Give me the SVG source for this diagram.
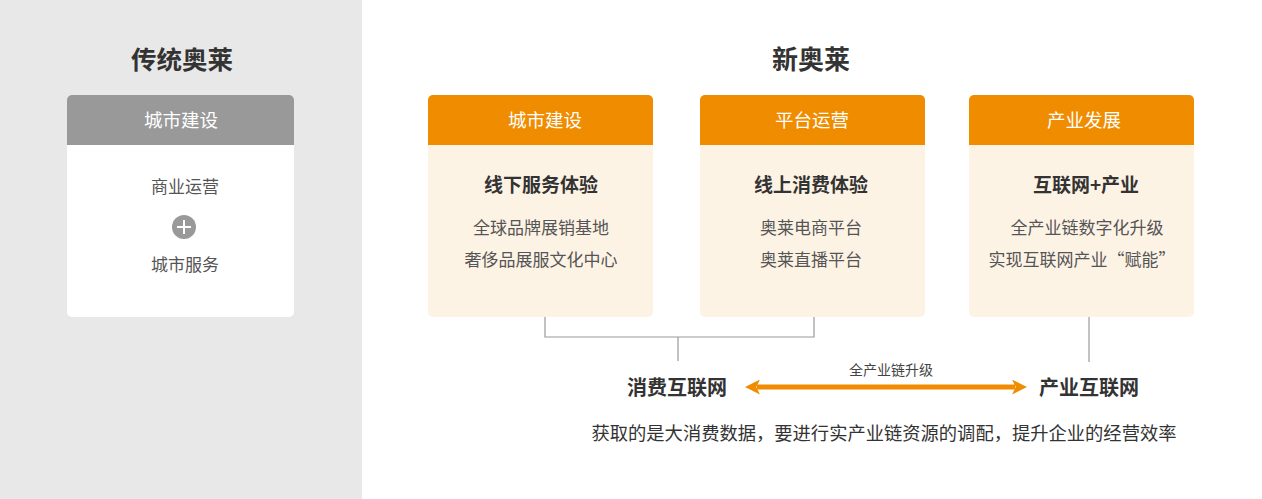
<svg xmlns="http://www.w3.org/2000/svg" width="1262" height="499" viewBox="0 0 1262 499">
<style>
text{font-family:"Noto Sans CJK SC","Noto Sans",sans-serif;text-anchor:middle}
.title{font-size:25.5px;font-weight:bold;fill:#333}
.hdr{font-size:18.5px;fill:#fff}
.sub{font-size:19px;font-weight:bold;fill:#333}
.item{font-size:17px;fill:#555}
.body{fill:#fdf3e5}
.head{fill:#f08c00}
.conn{stroke:#999;stroke-width:1.2;fill:none}
</style>
<defs>
<clipPath id="c1"><rect x="67" y="95" width="227" height="222" rx="5"/></clipPath>
<clipPath id="c2"><rect x="428" y="95" width="225" height="222" rx="5"/></clipPath>
<clipPath id="c3"><rect x="700" y="95" width="225" height="222" rx="5"/></clipPath>
<clipPath id="c4"><rect x="969" y="95" width="225" height="222" rx="5"/></clipPath>
<marker id="ah" viewBox="0 0 10 10" refX="2" refY="5" markerWidth="3" markerHeight="3" orient="auto-start-reverse" markerUnits="strokeWidth"><path d="M0,0 L10,5 L0,10 L2.5,5 Z" fill="#f08c00"/></marker>
</defs>
<rect x="0" y="0" width="362" height="499" fill="#e8e8e8"/>
<rect x="362" y="0" width="900" height="499" fill="#fff"/>
<text class="title" x="182" y="69">传统奥莱</text>
<text class="title" x="811" y="69" style="font-size:26px">新奥莱</text>

<g id="old-box" clip-path="url(#c1)">
<rect x="67" y="95" width="227" height="222" fill="#fff"/>
<rect x="67" y="95" width="227" height="50" fill="#999"/>
<text class="hdr" x="181" y="127">城市建设</text>
<text class="item" x="185" y="193">商业运营</text>
<circle cx="184" cy="227" r="12" fill="#999"/>
<path d="M177,227 H191 M184,220 V234" stroke="#fff" stroke-width="2"/>
<text class="item" x="185" y="271">城市服务</text>
</g>

<g id="box-city" clip-path="url(#c2)">
<rect class="body" x="428" y="95" width="225" height="222"/>
<rect class="head" x="428" y="95" width="225" height="50"/>
<text class="hdr" x="545" y="127">城市建设</text>
<text class="sub" x="541" y="192">线下服务体验</text>
<text class="item" x="541" y="234">全球品牌展销基地</text>
<text class="item" x="541" y="266">奢侈品展服文化中心</text>
</g>

<g id="box-platform" clip-path="url(#c3)">
<rect class="body" x="700" y="95" width="225" height="222"/>
<rect class="head" x="700" y="95" width="225" height="50"/>
<text class="hdr" x="812" y="127">平台运营</text>
<text class="sub" x="811" y="192">线上消费体验</text>
<text class="item" x="811" y="234">奥莱电商平台</text>
<text class="item" x="811" y="266">奥莱直播平台</text>
</g>

<g id="box-industry" clip-path="url(#c4)">
<rect class="body" x="969" y="95" width="225" height="222"/>
<rect class="head" x="969" y="95" width="225" height="50"/>
<text class="hdr" x="1084" y="127">产业发展</text>
<text class="sub" x="1086" y="192">互联网+产业</text>
<text class="item" x="1087" y="234">全产业链数字化升级</text>
<text class="item" x="1082" y="266">实现互联网产业“赋能”</text>
</g>

<g id="connectors">
<path class="conn" d="M545,317 V337 H814 V317"/>
<path class="conn" d="M678,337 V361"/>
<path class="conn" d="M1089,317 V362"/>
<line x1="757" y1="387" x2="1015" y2="387" stroke="#f08c00" stroke-width="5" marker-start="url(#ah)" marker-end="url(#ah)"/>
</g>

<g id="consumer-net"><text class="sub" x="677" y="395" style="font-size:20px">消费互联网</text></g>
<g id="industry-net"><text class="sub" x="1089" y="395" style="font-size:20px">产业互联网</text></g>
<text x="891" y="375" style="font-size:14px;fill:#444">全产业链升级</text>
<text x="884" y="440" style="font-size:18.3px;fill:#333">获取的是大消费数据，要进行实产业链资源的调配，提升企业的经营效率</text>
</svg>
